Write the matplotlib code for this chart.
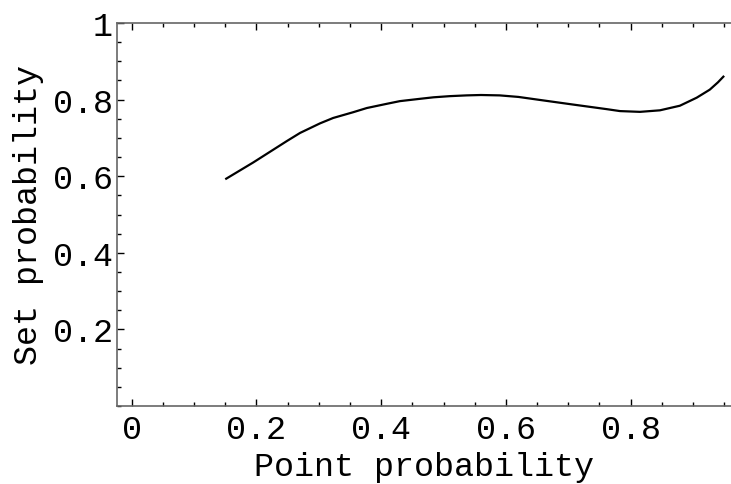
import numpy as np
import matplotlib.pyplot as plt
from matplotlib.ticker import FixedLocator, MultipleLocator

# Curve
point_prob = [0.150, 0.195, 0.249, 0.270, 0.302, 0.323, 0.355, 0.377, 0.409, 0.430,
              0.462, 0.484, 0.510, 0.537, 0.560, 0.590, 0.620, 0.655, 0.708, 0.762,
              0.783, 0.815, 0.847, 0.879, 0.906, 0.927, 0.940, 0.950]
set_prob = [0.592, 0.636, 0.692, 0.713, 0.738, 0.752, 0.767, 0.778, 0.789, 0.796,
            0.802, 0.806, 0.809, 0.811, 0.812, 0.811, 0.807, 0.799, 0.787, 0.775,
            0.770, 0.768, 0.772, 0.784, 0.805, 0.826, 0.845, 0.862]

x_ticks = [0, 0.2, 0.4, 0.6, 0.8]
x_labels = ['0', '0.2', '0.4', '0.6', '0.8']
y_ticks = [0.2, 0.4, 0.6, 0.8, 1.0]
y_labels = ['0.2', '0.4', '0.6', '0.8', '1']

plt.rcParams['font.family'] = ['Liberation Mono', 'DejaVu Sans Mono']

fig = plt.figure(figsize=(7.31, 4.85), dpi=100)
ax = fig.add_axes([117 / 731, 78 / 485, 614 / 731, 383 / 485])

ax.plot(point_prob, set_prob, color='black', linewidth=1.6,
        solid_joinstyle='round', solid_capstyle='butt')

ax.set_xlim(-0.0236, 0.961)
ax.set_ylim(0, 1)

ax.xaxis.set_major_locator(FixedLocator(x_ticks))
ax.set_xticklabels(x_labels)
ax.yaxis.set_major_locator(FixedLocator(y_ticks))
ax.set_yticklabels(y_labels)
ax.xaxis.set_minor_locator(MultipleLocator(0.05))
ax.yaxis.set_minor_locator(MultipleLocator(0.05))

ax.tick_params(which='both', direction='in', top=True, right=False,
               labelsize=24, colors='black', width=1)
ax.tick_params(which='major', length=5)
ax.tick_params(which='minor', length=3)
ax.tick_params(axis='x', which='major', pad=6)
ax.tick_params(axis='y', which='major', pad=3)

for side in ['left', 'bottom', 'top']:
    ax.spines[side].set_color('#666666')
    ax.spines[side].set_linewidth(1.2)
ax.spines['right'].set_visible(False)

ax.set_xlabel('Point probability', fontsize=24, labelpad=4)
ax.set_ylabel('Set probability', fontsize=24, labelpad=6)

fig.savefig('out.png', dpi=100)
